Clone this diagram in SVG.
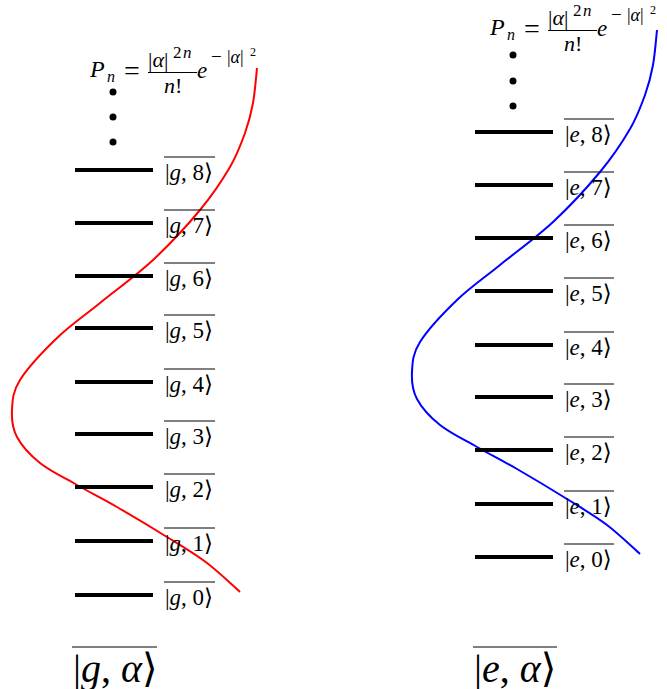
<svg xmlns="http://www.w3.org/2000/svg" width="667" height="689" viewBox="0 0 667 689">
<style>
.lvl{stroke:#000;stroke-width:4;fill:none}
.ov{stroke:#000;stroke-width:1}
.t{font-family:"Liberation Serif","DejaVu Serif",serif;fill:#000}
.lab{font-size:23px}
.big{font-size:40px}
.i{font-style:italic}
.dot{fill:#000}
.curve{fill:none;stroke-width:2}
</style>
<defs>
<path id="dist" d="M257,68 C256.33,73.83 255,92.17 253,103 C251,113.83 248.83,122.33 245,133 C241.17,143.67 237.5,154.17 230,167 C222.5,179.83 212.83,194.5 200,210 C187.17,225.5 169.67,244.5 153,260 C136.33,275.5 116,290 100,303 C84,316 70.33,325.17 57,338 C43.67,350.83 27.5,368 20,380 C12.5,392 12.5,400.5 12,410 C11.5,419.5 12.33,428.17 17,437 C21.67,445.83 30,455 40,463 C50,471 64.17,477.67 77,485 C89.83,492.33 102,498.33 117,507 C132,515.67 152,527.67 167,537 C182,546.33 194.83,553.83 207,563 C219.17,572.17 234.5,587.17 240,592"/>
<g id="formula">
<text class="t i" x="90" y="77" font-size="24">P</text>
<text class="t i" x="107" y="82" font-size="16">n</text>
<text class="t" x="124" y="80" font-size="28">=</text>
<text class="t" x="148" y="67" font-size="22">|<tspan class="i">α</tspan>|</text>
<text class="t" x="173" y="58" font-size="17">2</text>
<text class="t i" x="183" y="58" font-size="17">n</text>
<line x1="148" y1="72.5" x2="197" y2="72.5" stroke="#000" stroke-width="1"/>
<text class="t" x="164" y="93" font-size="22"><tspan class="i">n</tspan>!</text>
<text class="t i" x="197" y="78" font-size="23">e</text>
<text class="t" x="211" y="63" font-size="19">−</text>
<text class="t" x="227" y="63" font-size="18">|<tspan class="i">α</tspan>|</text>
<text class="t" x="250" y="56" font-size="12">2</text>
</g>
</defs>

<g id="distributions">
<use href="#dist" class="curve" stroke="#ff0000"/>
<use href="#dist" class="curve" stroke="#0000ff" transform="translate(400,-38)"/>
</g>

<g id="ground-manifold">
<g id="formula-g"><use href="#formula"/></g>
<g id="dots-g"><circle class="dot" cx="113" cy="92" r="3.5"/><circle class="dot" cx="113" cy="117" r="3.5"/><circle class="dot" cx="113" cy="142" r="3.5"/></g>
<g id="g8"><line class="lvl" x1="75" y1="170" x2="153" y2="170"/><line class="ov" x1="164" y1="157" x2="215" y2="157"/><text class="t lab" x="165" y="180">|<tspan class="i">g</tspan>, 8⟩</text></g>
<g id="g7"><line class="lvl" x1="75" y1="223" x2="153" y2="223"/><line class="ov" x1="164" y1="210" x2="215" y2="210"/><text class="t lab" x="165" y="233">|<tspan class="i">g</tspan>, 7⟩</text></g>
<g id="g6"><line class="lvl" x1="75" y1="276" x2="153" y2="276"/><line class="ov" x1="164" y1="263" x2="215" y2="263"/><text class="t lab" x="165" y="286">|<tspan class="i">g</tspan>, 6⟩</text></g>
<g id="g5"><line class="lvl" x1="75" y1="328" x2="153" y2="328"/><line class="ov" x1="164" y1="315" x2="215" y2="315"/><text class="t lab" x="165" y="338">|<tspan class="i">g</tspan>, 5⟩</text></g>
<g id="g4"><line class="lvl" x1="75" y1="382" x2="153" y2="382"/><line class="ov" x1="164" y1="369" x2="215" y2="369"/><text class="t lab" x="165" y="392">|<tspan class="i">g</tspan>, 4⟩</text></g>
<g id="g3"><line class="lvl" x1="75" y1="434" x2="153" y2="434"/><line class="ov" x1="164" y1="421" x2="215" y2="421"/><text class="t lab" x="165" y="444">|<tspan class="i">g</tspan>, 3⟩</text></g>
<g id="g2"><line class="lvl" x1="75" y1="487" x2="153" y2="487"/><line class="ov" x1="164" y1="474" x2="215" y2="474"/><text class="t lab" x="165" y="497">|<tspan class="i">g</tspan>, 2⟩</text></g>
<g id="g1"><line class="lvl" x1="75" y1="541" x2="153" y2="541"/><line class="ov" x1="164" y1="528" x2="215" y2="528"/><text class="t lab" x="165" y="551">|<tspan class="i">g</tspan>, 1⟩</text></g>
<g id="g0"><line class="lvl" x1="75" y1="595" x2="153" y2="595"/><line class="ov" x1="164" y1="582" x2="215" y2="582"/><text class="t lab" x="165" y="605">|<tspan class="i">g</tspan>, 0⟩</text></g>
<g id="g-alpha"><line class="ov" x1="72" y1="647" x2="157" y2="647"/><text class="t big" x="73" y="682">|<tspan class="i">g</tspan>, <tspan class="i">α</tspan>⟩</text></g>
</g>

<g id="excited-manifold">
<g id="formula-e"><use href="#formula" transform="translate(400,-42)"/></g>
<g id="dots-e"><circle class="dot" cx="513" cy="55" r="3.5"/><circle class="dot" cx="513" cy="81" r="3.5"/><circle class="dot" cx="513" cy="106" r="3.5"/></g>
<g id="e8"><line class="lvl" x1="475" y1="132" x2="553" y2="132"/><line class="ov" x1="564" y1="119" x2="614" y2="119"/><text class="t lab" x="565" y="142">|<tspan class="i">e</tspan>, 8⟩</text></g>
<g id="e7"><line class="lvl" x1="475" y1="185" x2="553" y2="185"/><line class="ov" x1="564" y1="172" x2="614" y2="172"/><text class="t lab" x="565" y="195">|<tspan class="i">e</tspan>, 7⟩</text></g>
<g id="e6"><line class="lvl" x1="475" y1="238" x2="553" y2="238"/><line class="ov" x1="564" y1="225" x2="614" y2="225"/><text class="t lab" x="565" y="248">|<tspan class="i">e</tspan>, 6⟩</text></g>
<g id="e5"><line class="lvl" x1="475" y1="291" x2="553" y2="291"/><line class="ov" x1="564" y1="278" x2="614" y2="278"/><text class="t lab" x="565" y="301">|<tspan class="i">e</tspan>, 5⟩</text></g>
<g id="e4"><line class="lvl" x1="475" y1="345" x2="553" y2="345"/><line class="ov" x1="564" y1="332" x2="614" y2="332"/><text class="t lab" x="565" y="355">|<tspan class="i">e</tspan>, 4⟩</text></g>
<g id="e3"><line class="lvl" x1="475" y1="397" x2="553" y2="397"/><line class="ov" x1="564" y1="384" x2="614" y2="384"/><text class="t lab" x="565" y="407">|<tspan class="i">e</tspan>, 3⟩</text></g>
<g id="e2"><line class="lvl" x1="475" y1="450" x2="553" y2="450"/><line class="ov" x1="564" y1="437" x2="614" y2="437"/><text class="t lab" x="565" y="460">|<tspan class="i">e</tspan>, 2⟩</text></g>
<g id="e1"><line class="lvl" x1="475" y1="504" x2="553" y2="504"/><line class="ov" x1="564" y1="491" x2="614" y2="491"/><text class="t lab" x="565" y="514">|<tspan class="i">e</tspan>, 1⟩</text></g>
<g id="e0"><line class="lvl" x1="475" y1="557" x2="553" y2="557"/><line class="ov" x1="564" y1="544" x2="614" y2="544"/><text class="t lab" x="565" y="567">|<tspan class="i">e</tspan>, 0⟩</text></g>
<g id="e-alpha"><line class="ov" x1="473" y1="647" x2="557" y2="647"/><text class="t big" x="474" y="682">|<tspan class="i">e</tspan>, <tspan class="i">α</tspan>⟩</text></g>
</g>
</svg>
